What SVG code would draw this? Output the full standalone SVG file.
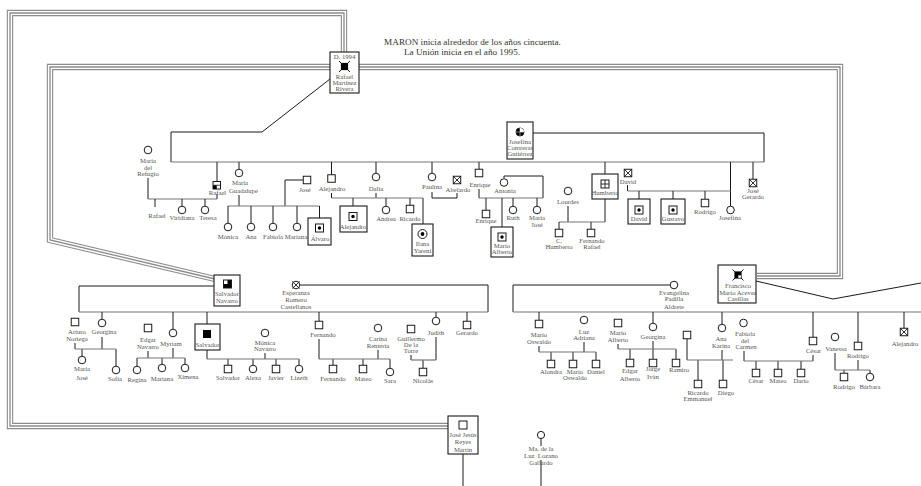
<svg xmlns="http://www.w3.org/2000/svg" width="921" height="486" viewBox="0 0 921 486">
<style>
.t1{fill:none;stroke:#8c8c8c;stroke-width:6.4}
.t2{fill:none;stroke:#fff;stroke-width:4.2}
.t3{fill:none;stroke:#8c8c8c;stroke-width:1.3}
.k{fill:none;stroke:#1a1a1a;stroke-width:1}
.g{fill:none;stroke:#777;stroke-width:1.2}
.bx{fill:#fff;stroke:#1a1a1a;stroke-width:1.1}
text{font-family:"Liberation Serif","Times New Roman",serif;font-size:6.7px;fill:#555;text-anchor:middle}
.cap{font-size:9.2px;fill:#333}
</style>
<defs>
<rect id="S" x="-3.75" y="-3.75" width="7.5" height="7.5" fill="#fff" stroke="#1a1a1a" stroke-width="1"/>
<circle id="C" r="3.8" fill="#fff" stroke="#1a1a1a" stroke-width="1"/>
<g id="SD"><rect x="-4" y="-4" width="8" height="8" fill="#fff" stroke="#1a1a1a" stroke-width="1"/><circle r="1.7" fill="#000"/></g>
<g id="SX"><use href="#S"/><path d="M-3.75,-3.75L3.75,3.75M3.75,-3.75L-3.75,3.75" stroke="#1a1a1a" stroke-width="0.9"/></g>
<g id="CX"><use href="#C"/><path d="M-3.6,-3.6L3.6,3.6M3.6,-3.6L-3.6,3.6" stroke="#1a1a1a" stroke-width="0.9"/></g>
<g id="DEC"><path d="M-5.5,-5.5L5.5,5.5M5.5,-5.5L-5.5,5.5" stroke="#1a1a1a" stroke-width="1"/><rect x="-3.6" y="-3.6" width="7.2" height="7.2" fill="#000"/></g>
<path id="f1" d="M344,52 V13 H10 V426 H448"/>
<path id="f2" d="M330,67 H50 V240 L215,279"/>
<path id="f3" d="M359,67 H840 V276 H757"/>
</defs>

<g id="frames">
<use href="#f1" class="t1"/><use href="#f1" class="t2"/><use href="#f1" class="t3"/>
<use href="#f2" class="t1"/><use href="#f2" class="t2"/><use href="#f2" class="t3"/>
<use href="#f3" class="t1"/><use href="#f3" class="t2"/><use href="#f3" class="t3"/>
</g>

<g id="connectors">
<path class="k" d="M330,79 L262,132 H171 V162"/>
<path class="k" d="M533,133 H764 V162"/>
<path class="g" d="M171,162 H764"/>
<path class="k" d="M217,162 V181 M239,162 V169 M331.5,162 V175 M376,162 V173 M432,162 V173 M479,162 V169 M605,162 V174 M730.5,162 V206 M753,162 V179"/>
<path class="k" d="M148,178 V199 M217,194 V199"/>
<path class="g" d="M148,199 H217"/>
<path class="k" d="M155,199 V207 M182,199 V206 M205,199 V206"/>
<path class="k" d="M239,195 V206 M303,180 H285 V206"/>
<path class="g" d="M228,206 H319.5"/>
<path class="k" d="M228,206 V223 M251,206 V223 M273,206 V223 M297,206 V223 M319.5,206 V218"/>
<path class="k" d="M331.5,193 V198 M376,193 V198 M423,198 V224"/>
<path class="g" d="M331.5,198 H423"/>
<path class="k" d="M353,198 V206 M386,198 V206 M410,198 V205"/>
<path class="k" d="M432,192 V198 H457 V193"/>
<path class="k" d="M479,189 V198 M504,178 V176 H543 V198"/>
<path class="g" d="M479,198 H543"/>
<path class="k" d="M486,198 V210 M502,198 V227 M513,198 V206 M537,198 V206"/>
<path class="k" d="M605,199 V222 M568,206 V222"/>
<path class="g" d="M559,222 H605"/>
<path class="k" d="M559,222 V229 M591,222 V229"/>
<path class="k" d="M627.5,185 V191"/>
<path class="g" d="M627.5,191 H730.5"/>
<path class="k" d="M639,191 V199 M673,191 V199 M705,191 V199"/>

<path class="k" d="M214,286 H79 V312 M300,285 H488 V312"/>
<path class="g" d="M79,312 H488"/>
<path class="k" d="M102,312 V319 M173,312 V329 M207,312 V324 M319,312 V321 M436,312 V317 M467,312 V321"/>
<path class="k" d="M75,343 V349 M102,337 V349 M82,349 V356 M116,349 V366"/>
<path class="g" d="M75,349 H116"/>
<path class="k" d="M148,351 V358 M173,348 V358 M137,358 V366 M162,358 V364 M185,358 V364"/>
<path class="g" d="M137,358 H185"/>
<path class="k" d="M207,350 V359 M265,353 V359 M228,359 V365 M253,359 V365 M276,359 V365 M299,359 V365"/>
<path class="g" d="M207,359 H299"/>
<path class="k" d="M319,339 V359 M378,350 V359 M333,359 V365 M363,359 V365 M390,359 V368"/>
<path class="g" d="M319,359 H390"/>
<path class="k" d="M411,355 V360 M436,337 V360 M423,360 V368"/>
<path class="g" d="M411,360 H436"/>

<path class="k" d="M670,285 H513 V312"/>
<path class="g" d="M513,312 H921"/>
<path class="k" d="M756,281 L833,299 L921,283"/>
<path class="k" d="M539,312 V320 M653,312 V323 M722,312 V324 M813,312 V337 M858,312 V342 M904,312 V328"/>
<path class="k" d="M539,346 V352 M584,342 V352 M551,352 V360 M573,352 V360 M596,352 V360"/>
<path class="g" d="M539,352 H596"/>
<path class="k" d="M618,344 V349 M653,341 V349 M630,349 V359 M653,349 V359 M676,349 V359"/>
<path class="g" d="M618,349 H676"/>
<path class="k" d="M687,339 V360 M722,350 V360 M698,360 V380 M723,360 V380"/>
<path class="g" d="M687,360 H733"/>
<path class="k" d="M744,351 V361 M813,355 V361 M756,361 V369 M778,361 V369 M801,361 V369"/>
<path class="g" d="M744,361 H813"/>
<path class="k" d="M835,353 V370 M858,360 V370 M844,370 V373 M870,370 V373"/>
<path class="g" d="M835,370 H870"/>
<path class="k" d="M463,454 V486 M541,439 V446 M541,460 V486"/>
</g>

<g id="caption">
<text class="cap" x="472.5" y="44.5">MARON inicia alrededor de los años cincuenta.</text>
<text class="cap" x="462" y="55">La Unión inicia en el año 1995.</text>
</g>

<g id="rafael-martinez"><rect class="bx" x="330" y="52" width="29" height="41"/><text x="344.5" y="58.5">D. 1994</text><use href="#DEC" x="344.5" y="66.5"/><text x="344.5" y="79">Rafael</text><text x="344.5" y="85">Martínez</text><text x="344.5" y="91">Rivera</text></g>
<g id="josefina-contreras"><rect class="bx" x="507" y="122" width="26" height="37"/><circle cx="520" cy="132" r="4" fill="#000" stroke="#1a1a1a"/><path d="M520,132 V128 A4,4 0 0 1 524,132 Z" fill="#fff"/><path d="M516,132 H524 M520,128 V136" stroke="#fff" stroke-width="0.5"/><text x="520" y="144">Josefina</text><text x="520" y="150">Contreras</text><text x="520" y="156">Gutiérrez</text></g>

<g id="maria-refugio"><use href="#C" x="148" y="150"/><text x="148" y="163">María</text><text x="148" y="169.5">del</text><text x="148" y="176">Refugio</text></g>
<g id="rafael-2"><rect x="213" y="181.5" width="7.5" height="7.5" fill="#fff" stroke="#1a1a1a"/><rect x="213" y="185.25" width="3.75" height="3.75" fill="#000"/><path d="M213,185.25 H220.5" stroke="#1a1a1a" stroke-width="0.8"/><text x="217.5" y="195">Rafael</text></g>
<g id="rafael-3"><text x="157" y="218">Rafael</text></g>
<g id="viridiana"><use href="#C" x="182" y="210"/><text x="182" y="220">Viridiana</text></g>
<g id="teresa"><use href="#C" x="205" y="210"/><text x="208" y="220">Teresa</text></g>
<g id="maria-guadalupe"><use href="#C" x="239" y="173"/><text x="240" y="185">María</text><text x="243.5" y="193">Guadalupe</text></g>
<g id="jose"><use href="#S" x="307" y="180"/><text x="305" y="192">José</text></g>
<g id="monica"><use href="#C" x="228" y="227"/><text x="228" y="238.5">Mónica</text></g>
<g id="ana"><use href="#C" x="251" y="227"/><text x="251" y="238.5">Ana</text></g>
<g id="fabiola"><use href="#C" x="273" y="227"/><text x="273" y="238.5">Fabiola</text></g>
<g id="mariana"><use href="#C" x="297" y="227"/><text x="296" y="238.5">Mariana</text></g>
<g id="alvaro"><rect class="bx" x="308" y="218" width="23" height="27"/><use href="#SD" x="319.5" y="228"/><text x="320" y="241">Álvaro</text></g>
<g id="alejandro"><use href="#S" x="331.5" y="178.5"/><text x="332" y="191">Alejandro</text></g>
<g id="dalia"><use href="#C" x="376" y="177"/><text x="376" y="191">Dalia</text></g>
<g id="alejandro-2"><rect class="bx" x="340" y="206" width="27" height="26"/><use href="#SD" x="353" y="216.5"/><text x="353" y="228.5">Alejandro</text></g>
<g id="andrea"><use href="#C" x="386" y="210"/><text x="386" y="221">Andrea</text></g>
<g id="ricardo"><use href="#S" x="410" y="209"/><text x="410" y="221">Ricardo</text></g>
<g id="ilana"><rect class="bx" x="412" y="224" width="21" height="32"/><circle cx="422.5" cy="234" r="4.5" fill="#fff" stroke="#1a1a1a"/><circle cx="422.5" cy="234" r="1.9" fill="#000"/><text x="422.5" y="246">Ilana</text><text x="422.5" y="252.5">Yareni</text></g>
<g id="paulina"><use href="#C" x="432" y="177"/><text x="432" y="189">Paulina</text></g>
<g id="abelardo"><use href="#SX" x="457" y="180"/><text x="458" y="192">Abelardo</text></g>
<g id="enrique"><use href="#S" x="479" y="173"/><text x="480" y="187">Enrique</text></g>
<g id="antonia"><use href="#C" x="504" y="182.5"/><text x="505" y="193">Antonia</text></g>
<g id="enrique-2"><use href="#S" x="486" y="214"/><text x="486" y="222.5">Enrique</text></g>
<g id="mario-alberto"><rect class="bx" x="491" y="227" width="22" height="30"/><use href="#SD" x="502" y="237"/><text x="502" y="248">Mario</text><text x="502" y="254">Alberto</text></g>
<g id="ruth"><use href="#C" x="513" y="210"/><text x="513" y="219.5">Ruth</text></g>
<g id="maria-jose"><use href="#C" x="537" y="210"/><text x="537" y="219.5">María</text><text x="537" y="227">José</text></g>
<g id="humberto"><rect class="bx" x="592" y="174" width="26" height="25"/><rect x="601" y="180" width="8" height="8" fill="#fff" stroke="#1a1a1a"/><path d="M605,180 V188 M601,184 H609" stroke="#1a1a1a" stroke-width="0.9"/><text x="605" y="194.7">Humberto</text></g>
<g id="lourdes"><use href="#C" x="568" y="191"/><text x="568" y="203.7">Lourdes</text></g>
<g id="c-humberto"><use href="#S" x="559" y="233"/><text x="559" y="242.7">C.</text><text x="559" y="249.3">Humberto</text></g>
<g id="fernando-rafael"><use href="#S" x="591" y="233"/><text x="592" y="242.7">Fernando</text><text x="592" y="249.3">Rafael</text></g>
<g id="david"><use href="#SX" x="628" y="173"/><text x="628" y="183.7">David</text></g>
<g id="david-2"><rect class="bx" x="628" y="199" width="22" height="25"/><use href="#SD" x="639" y="210"/><text x="639" y="220.7">David</text></g>
<g id="gustavo"><rect class="bx" x="661" y="199" width="24" height="25"/><use href="#SD" x="673" y="210"/><text x="673" y="220.7">Gustavo</text></g>
<g id="rodrigo"><use href="#S" x="705" y="203"/><text x="705" y="213.7">Rodrigo</text></g>
<g id="josefina-2"><use href="#C" x="730.5" y="210"/><text x="730" y="219.7">Josefina</text></g>
<g id="jose-gerardo"><use href="#SX" x="753" y="183"/><text x="753" y="192.7">José</text><text x="753" y="198.7">Gerardo</text></g>

<g id="salvador-navarro"><rect class="bx" x="214" y="275" width="26" height="31"/><rect x="223.5" y="280" width="8" height="8" fill="#000" stroke="#1a1a1a"/><rect x="224" y="280.5" width="3.5" height="3.5" fill="#fff"/><text x="227" y="296.3">Salvador</text><text x="227" y="302.7">Navarro</text></g>
<g id="esperanza"><use href="#CX" x="296" y="285"/><text x="296" y="295.3">Esperanza</text><text x="296" y="302">Romero</text><text x="296" y="308.7">Castellanos</text></g>
<g id="arturo"><use href="#S" x="75" y="322"/><text x="77" y="334.3">Arturo</text><text x="77" y="341">Noriega</text></g>
<g id="georgina"><use href="#C" x="102" y="323"/><text x="104" y="334">Georgina</text></g>
<g id="maria-jose-2"><use href="#C" x="82" y="360"/><text x="82" y="371.3">María</text><text x="82" y="380.3">José</text></g>
<g id="sofia"><use href="#C" x="116" y="370"/><text x="115" y="381">Sofía</text></g>
<g id="edgar-navarro"><use href="#S" x="148" y="328"/><text x="148" y="342">Edgar</text><text x="148" y="349.3">Navarro</text></g>
<g id="myriam"><use href="#C" x="173" y="333"/><text x="171" y="346">Myriam</text></g>
<g id="regina"><use href="#C" x="137" y="370"/><text x="137" y="382">Regina</text></g>
<g id="mariana-2"><use href="#C" x="162" y="368"/><text x="162" y="381.3">Mariana</text></g>
<g id="ximena"><use href="#C" x="185" y="368"/><text x="188" y="379.3">Ximena</text></g>
<g id="salvador-2"><rect class="bx" x="195" y="324" width="25" height="26"/><rect x="203" y="330" width="8" height="8" fill="#000"/><text x="207.5" y="347">Salvador</text></g>
<g id="salvador-3"><use href="#S" x="228" y="369"/><text x="228" y="380.3">Salvador</text></g>
<g id="alexa"><use href="#C" x="253" y="369"/><text x="253" y="380.3">Alexa</text></g>
<g id="javier"><use href="#S" x="276" y="369"/><text x="276" y="380.3">Javier</text></g>
<g id="lizeth"><use href="#C" x="299" y="369"/><text x="299" y="380.3">Lizeth</text></g>
<g id="monica-navarro"><use href="#C" x="265" y="333"/><text x="265" y="345.3">Mónica</text><text x="265" y="351.3">Navarro</text></g>
<g id="fernando"><use href="#S" x="319" y="325"/><text x="323" y="337">Fernando</text></g>
<g id="carina"><use href="#C" x="378" y="328"/><text x="378" y="341">Carina</text><text x="378" y="348">Rentería</text></g>
<g id="fernando-2"><use href="#S" x="333" y="369"/><text x="333" y="381">Fernando</text></g>
<g id="mateo"><use href="#S" x="363" y="369"/><text x="363" y="381">Mateo</text></g>
<g id="sara"><use href="#C" x="390" y="372"/><text x="390" y="382.7">Sara</text></g>
<g id="guillermo"><use href="#S" x="411" y="329"/><text x="411" y="341">Guillermo</text><text x="411" y="347">De la</text><text x="411" y="352.7">Torre</text></g>
<g id="judith"><use href="#C" x="436" y="321"/><text x="436" y="334.7">Judith</text></g>
<g id="nicolas"><use href="#S" x="423" y="372"/><text x="423" y="382.7">Nicolás</text></g>
<g id="gerardo"><use href="#S" x="467" y="325"/><text x="467" y="334.7">Gerardo</text></g>

<g id="evangelina"><use href="#C" x="674" y="285"/><text x="674" y="295.3">Evangelina</text><text x="674" y="301.3">Padilla</text><text x="674" y="308.7">Aldrete</text></g>
<g id="francisco"><rect class="bx" x="718" y="265" width="38" height="38"/><use href="#DEC" x="738" y="275"/><rect x="738.3" y="275.3" width="2.6" height="2.6" fill="#fff"/><text x="738" y="288">Francisco</text><text x="738" y="294.7">Mario Acevez</text><text x="738" y="301.3">Casillas</text></g>
<g id="mario-oswaldo"><use href="#S" x="539" y="324"/><text x="539" y="337">Mario</text><text x="539" y="343.7">Oswaldo</text></g>
<g id="luz-adriana"><use href="#C" x="584" y="320"/><text x="584" y="333.5">Luz</text><text x="584" y="340">Adriana</text></g>
<g id="alondra"><use href="#S" x="551" y="364"/><text x="551" y="373.7">Alondra</text></g>
<g id="mario-oswaldo-2"><use href="#S" x="573" y="364"/><text x="575" y="373.7">Mario</text><text x="575" y="380.3">Oswaldo</text></g>
<g id="daniel"><use href="#S" x="596" y="364"/><text x="596" y="373.7">Daniel</text></g>
<g id="mario-alberto-2"><use href="#S" x="618" y="323"/><text x="618" y="335.3">Mario</text><text x="618" y="342">Alberto</text></g>
<g id="georgina-2"><use href="#C" x="653" y="327"/><text x="653" y="338.7">Georgina</text></g>
<g id="edgar-alberto"><use href="#S" x="630" y="363"/><text x="630" y="373">Edgar</text><text x="630" y="381">Alberto</text></g>
<g id="jorge-ivan"><use href="#S" x="653" y="363"/><text x="653" y="371.3">Jorge</text><text x="653" y="378.7">Iván</text></g>
<g id="ramiro"><use href="#S" x="676" y="363"/><text x="679" y="372">Ramiro</text></g>
<g id="spouse-ana-karina"><use href="#S" x="687" y="335"/></g>
<g id="ana-karina"><use href="#C" x="722" y="328"/><text x="721" y="341">Ana</text><text x="721" y="348">Karina</text></g>
<g id="ricardo-emmanuel"><use href="#S" x="698" y="384"/><text x="698" y="395.3">Ricardo</text><text x="698" y="401.3">Emmanuel</text></g>
<g id="diego"><use href="#S" x="723" y="384"/><text x="726" y="395.3">Diego</text></g>
<g id="fabiola-del-carmen"><use href="#C" x="743.5" y="323"/><text x="745" y="336">Fabiola</text><text x="745" y="342.5">del</text><text x="746" y="349">Carmen</text></g>
<g id="cesar"><use href="#S" x="813" y="341"/><text x="813.5" y="352.7">César</text></g>
<g id="cesar-2"><use href="#S" x="756" y="373"/><text x="756" y="382.7">César</text></g>
<g id="mateo-2"><use href="#S" x="778" y="373"/><text x="778" y="382.7">Mateo</text></g>
<g id="dario"><use href="#S" x="801" y="373"/><text x="801" y="382.7">Darío</text></g>
<g id="vanessa"><use href="#C" x="835" y="337"/><text x="836" y="351.3">Vanessa</text></g>
<g id="rodrigo-2"><use href="#S" x="858" y="346"/><text x="858" y="358">Rodrigo</text></g>
<g id="rodrigo-3"><use href="#S" x="844" y="377"/><text x="844" y="388.7">Rodrigo</text></g>
<g id="barbara"><use href="#C" x="870" y="377"/><text x="870" y="388.7">Bárbara</text></g>
<g id="alejandro-3"><use href="#SX" x="904" y="332"/><text x="905" y="346">Alejandro</text></g>

<g id="jose-jesus"><rect class="bx" x="448" y="416" width="30" height="38"/><rect x="459" y="421" width="8" height="8" fill="#fff" stroke="#1a1a1a"/><text x="463" y="437">José Jesús</text><text x="463" y="444.3">Reyes</text><text x="463" y="452">Martín</text></g>
<g id="ma-luz"><circle cx="541" cy="435" r="3.6" fill="#fff" stroke="#1a1a1a"/><text x="541" y="451.3">Ma. de la</text><text x="541" y="458" xml:space="preserve">Luz  Lozano</text><text x="541" y="465.3">Gallardo</text></g>
</svg>
